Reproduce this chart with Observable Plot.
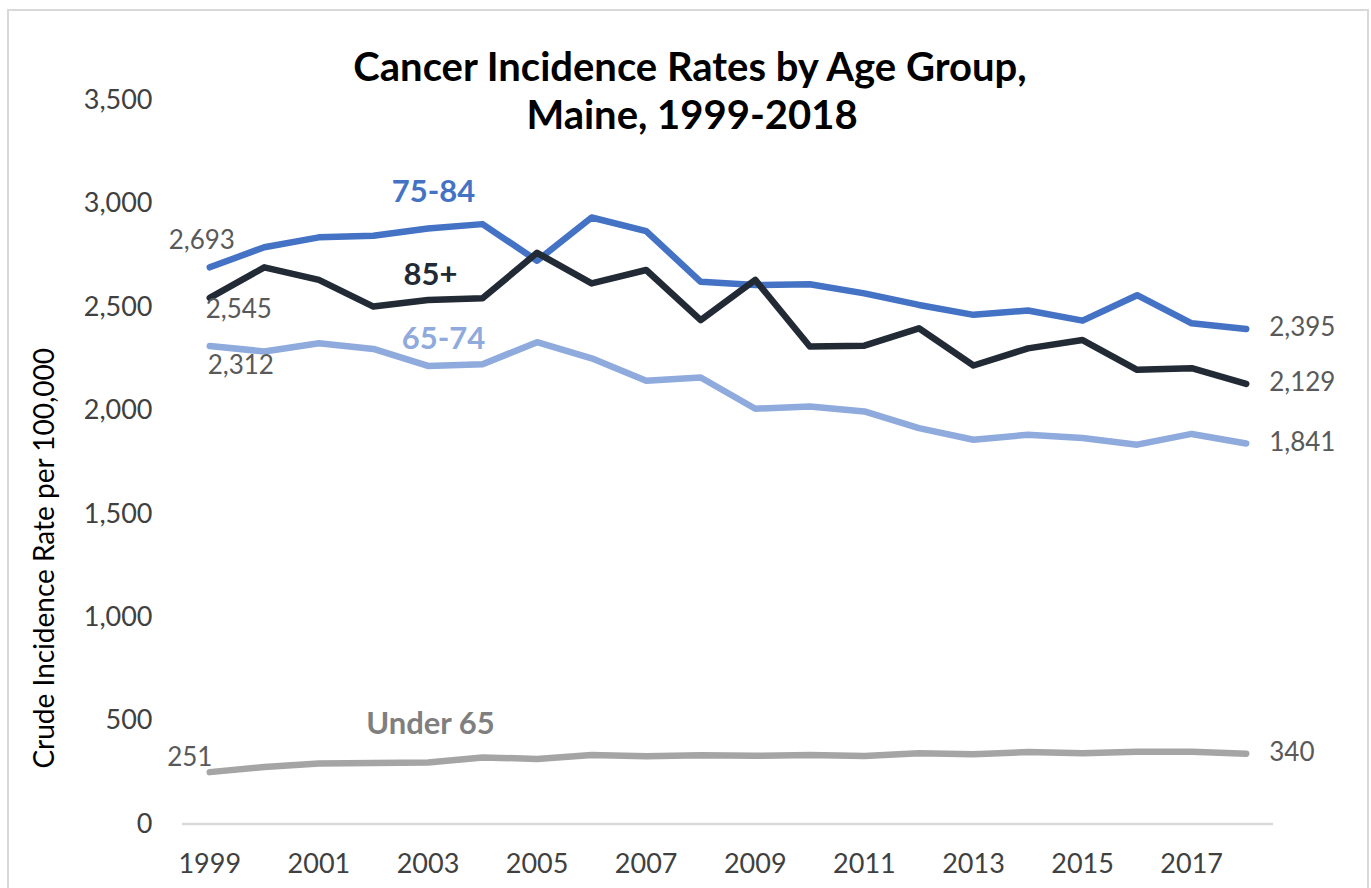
<!DOCTYPE html>
<html><head><meta charset="utf-8">
<script src="https://cdn.jsdelivr.net/npm/d3@7"></script>
<script src="https://cdn.jsdelivr.net/npm/@observablehq/plot@0.6"></script>
<style>
html,body{margin:0;padding:0;background:#fff;overflow:hidden;width:1371px;height:888px}
#chart{position:absolute;left:0;top:0}
#frame{position:absolute;left:7px;top:9px;width:1362px;height:920px;border:2.5px solid #d9d9d9;box-sizing:border-box;pointer-events:none}
</style></head><body>
<div id="chart"></div><div id="frame"></div>
<script>
// ---- data ----
const years = [1999,2000,2001,2002,2003,2004,2005,2006,2007,2008,2009,2010,2011,2012,2013,2014,2015,2016,2017,2018];
const under65 = [251,276,293,295,297,322,315,334,328,333,330,334,329,342,338,348,342,349,349,340];
const age6574 = [2312,2286,2326,2298,2216,2224,2331,2253,2144,2160,2009,2020,1996,1915,1859,1883,1867,1835,1887,1841];
const age7584 = [2693,2790,2838,2846,2881,2902,2725,2934,2868,2623,2607,2611,2567,2511,2463,2484,2435,2558,2422,2395];
const age85plus = [2545,2693,2632,2503,2535,2543,2763,2615,2680,2438,2632,2310,2314,2398,2218,2301,2341,2197,2205,2129];
const seriesNames = ["Under 65","65-74","75-84","85+"];
const seriesValues = [under65, age6574, age7584, age85plus];
const seriesColors = ["#A5A5A5","#8FAADC","#4472C4","#222A35"];
const labelColors = ["#7F7F7F","#8FAADC","#4472C4","#222A35"];
const yTicks = [0,500,1000,1500,2000,2500,3000,3500];
const xTicks = [1999,2001,2003,2005,2007,2009,2011,2013,2015,2017];
const titleLines = ["Cancer Incidence Rates by Age Group,","Maine, 1999-2018"];
const yTitle = "Crude Incidence Rate per 100,000";

// ---- build table ----
const rows = [];
seriesNames.forEach((s, i) => seriesValues[i].forEach((v, j) => rows.push({series: s, year: years[j], value: v})));
const fmt = d3.format(",");
const of = s => rows.filter(d => d.series === s);

function seriesLabel(name, year, dx, dy) {
  const i = seriesNames.indexOf(name);
  return Plot.text(of(name).filter(d => d.year === year), {
    x: "year", y: "value", text: () => name, dx, dy,
    fill: labelColors[i], fontWeight: "bold", fontSize: 31, lineAnchor: "middle"
  });
}
function firstLabel(name, dx, dy) {
  return Plot.text(of(name), Plot.selectFirst({
    x: "year", y: "value", text: d => fmt(d.value), dx, dy,
    textAnchor: "middle", fill: "#595959", fontSize: 26, lineAnchor: "middle"
  }));
}

const chart = Plot.plot({
  width: 1371, height: 888,
  marginLeft: 182, marginRight: 98, marginTop: 100, marginBottom: 64.5,
  style: {fontFamily: "Lato, sans-serif", fontSize: "27px", color: "#404040", background: "transparent"},
  x: {domain: [1998.5, 2018.5], ticks: xTicks, tickSize: 0, tickPadding: 30, tickFormat: d => String(d), label: null},
  y: {domain: [0, 3500], ticks: yTicks, tickSize: 0, tickPadding: 30, tickFormat: fmt, label: null},
  color: {domain: seriesNames, range: seriesColors},
  marks: [
    Plot.ruleY([0], {stroke: "#d9d9d9", strokeWidth: 2.5}),
    Plot.line(rows, {x: "year", y: "value", z: "series", stroke: "series", strokeWidth: 6.5, strokeLinejoin: "round", strokeLinecap: "round"}),
    Plot.text(rows, Plot.selectLast({x: "year", y: "value", z: "series", text: d => fmt(d.value), dx: 23, dy: -1, textAnchor: "start", fill: "#595959", fontSize: 26, lineAnchor: "middle"})),
    firstLabel("75-84", -8, -27),
    firstLabel("85+", 29, 12),
    firstLabel("65-74", 31, 20),
    firstLabel("Under 65", -20, -14),
    seriesLabel("75-84", 2003, 5.5, -36),
    seriesLabel("85+", 2003, 2.5, -25),
    seriesLabel("65-74", 2003, 15.5, -27),
    seriesLabel("Under 65", 2003, 2.5, -39),
    Plot.text([titleLines[0]], {frameAnchor: "top", dx: -38, dy: -32, fontWeight: "bold", fontSize: 40, fill: "#000", lineAnchor: "middle"}),
    Plot.text([titleLines[1]], {frameAnchor: "top", dx: -36, dy: 16, fontWeight: "bold", fontSize: 40, fill: "#000", lineAnchor: "middle"}),
    Plot.text([yTitle], {frameAnchor: "left", textAnchor: "middle", dx: -137, dy: 96, rotate: -90, fontSize: 28, fill: "#000", lineAnchor: "middle"})
  ]
});
document.getElementById("chart").appendChild(chart);
</script>
</body></html>
